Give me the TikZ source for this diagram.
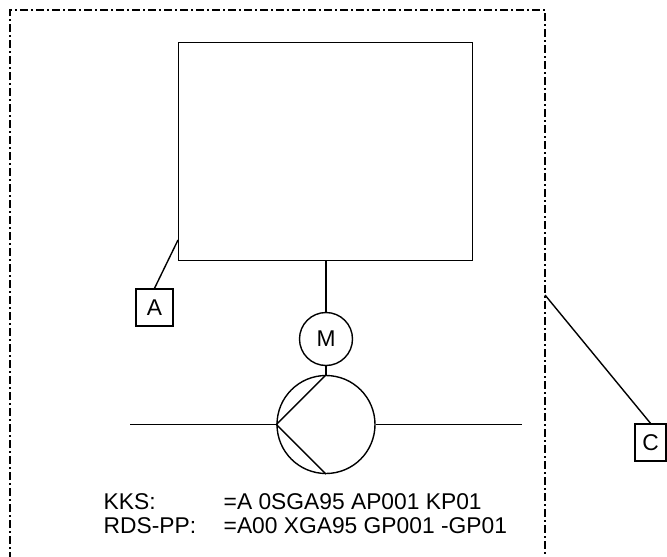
\documentclass[tikz,border=0pt]{standalone}
\usepackage{fontspec}
\setmainfont{Liberation Sans}
\usetikzlibrary{positioning, calc}

\begin{document}
\begin{tikzpicture}[x=1pt, y=-1pt, line width=1.4pt, font=\fontsize{22.8}{24}\selectfont,
    tagbox/.style={draw, minimum width=37pt, minimum height=37pt, inner sep=0pt},
    codetext/.style={anchor=base west, inner sep=0pt},
    frameline/.style={line width=1.6pt, dash pattern=on 8pt off 3pt on 2pt off 3pt}]

    \useasboundingbox (0,0) rectangle (667,557);

    % dash-dot boundary
    \draw[frameline] (10,560) -- (10,10) -- (545,10) -- (545,560) -- cycle;

    \node[draw, anchor=north west, minimum width=294pt, minimum height=218pt] (cabinet) at (178,42) {};

    \node[draw, circle, minimum size=53pt, inner sep=0pt] (motor) at (326,339) {M};
    \node[draw, circle, minimum size=98pt, inner sep=0pt] (pump) at (326,424.5) {};

    \coordinate (inlet) at (130,424.5);
    \coordinate (outlet) at (522,424.5);

    \draw (motor |- cabinet.south) -- (motor.north);
    \draw (motor.south) -- (pump.north);
    \draw (pump.north) -- (pump.west) -- (pump.south);
    \draw (inlet) -- (pump.west);
    \draw (pump.east) -- (outlet);

    % tags
    \node[tagbox] (tagA) at (154.5,307.5) {A};
    \node[tagbox, minimum width=31pt] (tagC) at (650.5,442.5) {C};

    \coordinate (leadA) at (cabinet.west |- 0,240);
    \coordinate (leadC) at (545,295);
    \draw (tagA.north) -- (leadA);
    \draw (tagC.north) -- (leadC);

    % designations
    \node[codetext] (kks) at (103,509) {KKS:};
    \node[codetext] (kkscode) at (223,509) {=A 0SGA95 AP001 KP01};
    \node[codetext] (rds) at (103,533) {RDS-PP:};
    \node[codetext] (rdscode) at (223,533) {=A00 XGA95 GP001 -GP01};

\end{tikzpicture}
\end{document}
